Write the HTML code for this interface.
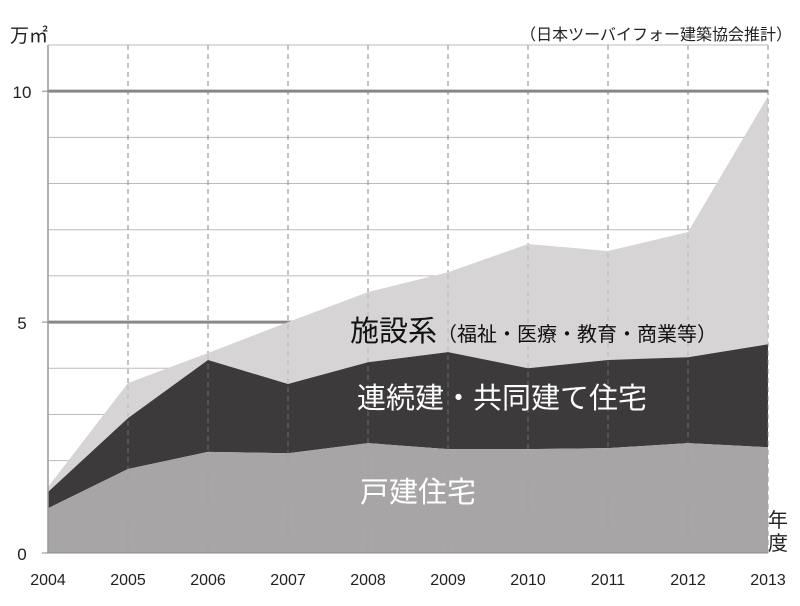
<!DOCTYPE html>
<html><head><meta charset="utf-8"><style>
body{margin:0;background:#fff;width:800px;height:601px;overflow:hidden}
svg text{font-family:"Liberation Sans","Noto Sans CJK JP",sans-serif}
</style></head><body>
<svg width="800" height="601" id="c"></svg>
<script>
const years=["2004","2005","2006","2007","2008","2009","2010","2011","2012","2013"];
const detached=[0.97,1.82,2.19,2.16,2.38,2.25,2.25,2.27,2.38,2.29];
const rowhouse=[0.35,1.10,1.99,1.50,1.75,2.10,1.75,1.91,1.86,2.23];
const facility=[0.11,0.76,0.15,1.34,1.52,1.73,2.69,2.36,2.71,5.37];
const yTicks=[0,5,10];
const NS="http://www.w3.org/2000/svg";
const svg=document.getElementById('c');
const X0=48,X1=768,Y0=553,YT=45,YMAX=11;
const x=i=>X0+(X1-X0)*i/(years.length-1);
const y=v=>Y0-(Y0-YT)*v/YMAX;
function mk(t,a,p){const e=document.createElementNS(NS,t);for(const k in a)e.setAttribute(k,a[k]);(p||svg).appendChild(e);return e;}
// grid
for(let v=1;v<=YMAX;v++){
 const g=mk('line',{x1:X0,x2:X1,y1:y(v),y2:y(v),stroke:v%5==0?'#888':'#bbb','stroke-width':v%5==0?3:1});
 
 
}
for(let i=1;i<years.length;i++){
 const g=mk('line',{x1:x(i),x2:x(i),y1:YT,y2:Y0,stroke:'#888','stroke-dasharray':'5,4'});
 
 
}
// areas
const c1=detached, c2=detached.map((d,i)=>d+rowhouse[i]), c3=c2.map((d,i)=>d+facility[i]);
function area(lo,hi,fill,name){
 let d='M'+x(0)+','+y(hi[0]);
 for(let i=1;i<hi.length;i++)d+='L'+x(i)+','+y(hi[i]);
 for(let i=lo.length-1;i>=0;i--)d+='L'+x(i)+','+y(lo?lo[i]:0);
 const p=mk('path',{d:d+'Z',fill});
 
 
}
const zero=years.map(()=>0);
area(c2,c3,'#d6d4d5','area-facility');
area(c1,c2,'#3c3a3b','area-rowhouse');
area(zero,c1,'#a7a5a6','area-detached');
// redraw dashed over areas faintly
for(let i=1;i<years.length;i++){
 const g=mk('line',{x1:x(i),x2:x(i),y1:y(c3[i])+2,y2:Y0,stroke:'#999','stroke-dasharray':'5,4','stroke-opacity':0.5});
 
 
}
// axes
let a=mk('line',{x1:X0,x2:X0,y1:YT,y2:Y0,stroke:'#999','stroke-width':1.5});

a=mk('line',{x1:X0,x2:X1,y1:YT,y2:YT,stroke:'#bbb'});

a=mk('line',{x1:X0,x2:X1,y1:Y0,y2:Y0,stroke:'#888'});

yTicks.forEach(v=>{
 const t=mk('text',{x:22,y:y(v)+7,'text-anchor':'middle','font-size':17,fill:'#222'});t.textContent=v;
 
 const l=mk('line',{x1:X0-6,x2:X0,y1:y(v),y2:y(v),stroke:'#888'});
 
});
years.forEach((yr,i)=>{
 const t=mk('text',{x:x(i),y:585,'text-anchor':'middle','font-size':16,fill:'#222'});t.textContent=yr;
 
});
function txt(s,xx,yy,fs,fill,name,anchor){const t=mk('text',{x:xx,y:yy,'font-size':fs,fill,'text-anchor':anchor||'start'});t.textContent=s;
 return t;}
txt('万㎡',10,42,19,'#222','y-axis-unit');
txt('（日本ツーバイフォー建築協会推計）',792,40,16,'#222','source-note','end');
txt('年',768,527,20,'#222','x-axis-unit');
txt('度',768,550,20,'#222','x-axis-unit-2');
const l1=txt('施設系',350,341,29,'#111','label-facility');
const s=mk('tspan',{'font-size':20});s.textContent='（福祉・医療・教育・商業等）';l1.appendChild(s);
txt('連続建・共同建て住宅',357,408,29,'#fff','label-rowhouse');
txt('戸建住宅',360,502,29,'#fff','label-detached');
</script>
</body></html>
